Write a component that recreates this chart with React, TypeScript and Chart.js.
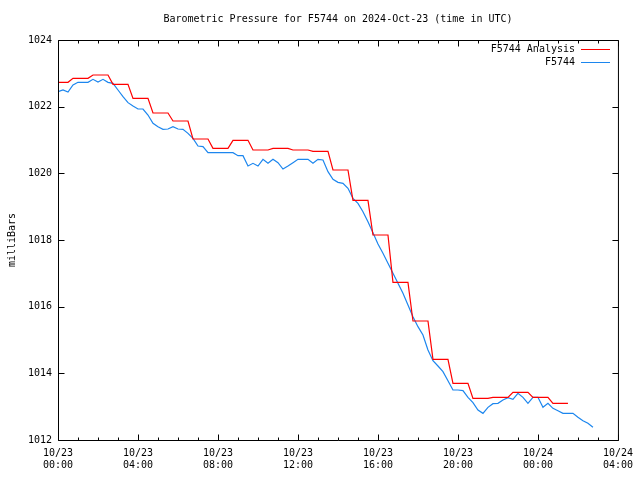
import React, { useEffect, useRef } from 'react';
import { Chart, registerables } from 'chart.js';

Chart.register(...registerables);

const TITLE = 'Barometric Pressure for F5744 on 2024-Oct-23 (time in UTC)';
const Y_TITLE = 'milliBars';
const SERIES_NAMES = ['F5744 Analysis', 'F5744'];
const SERIES_COLORS = ['#ff0000', '#1c86ee'];

// hours since 2024-10-23 00:00 UTC
const X_TICK_HOURS = [0, 4, 8, 12, 16, 20, 24, 28];
const X_TICK_LABELS = [
  ['10/23', '00:00'],
  ['10/23', '04:00'],
  ['10/23', '08:00'],
  ['10/23', '12:00'],
  ['10/23', '16:00'],
  ['10/23', '20:00'],
  ['10/24', '00:00'],
  ['10/24', '04:00'],
];
const Y_TICKS = [1012, 1014, 1016, 1018, 1020, 1022, 1024];

// hourly analysis values (hour 0 .. 25)
const analysisValues = [
  1022.73, 1022.85, 1022.95, 1022.67, 1022.25, 1021.81, 1021.57, 1021.03,
  1020.75, 1020.99, 1020.70, 1020.75, 1020.70, 1020.66, 1020.10, 1019.19,
  1018.15, 1016.73, 1015.57, 1014.42, 1013.70, 1013.25, 1013.28, 1013.43,
  1013.28, 1013.10,
];
const analysisEndHour = 25.5;

// station observations
const obsHours = [
  0, 0.25, 0.5, 0.75, 1, 1.25, 1.5, 1.75, 2, 2.25, 2.5, 2.75,
  3, 3.25, 3.5, 3.75, 4, 4.25, 4.5, 4.75, 5, 5.25, 5.5, 5.75,
  6, 6.25, 6.5, 6.75, 7, 7.25, 7.5, 7.75, 8, 8.25, 8.5, 8.75,
  9, 9.25, 9.5, 9.75, 10, 10.25, 10.5, 10.75, 11, 11.25, 11.5, 11.75,
  12, 12.25, 12.5, 12.75, 13, 13.25, 13.5, 13.75, 14, 14.25, 14.5, 14.75,
  15, 15.25, 15.5, 15.75, 16, 16.25, 16.5, 16.75, 17, 17.25, 17.5, 17.75,
  18, 18.25, 18.5, 18.75, 19, 19.25, 19.5, 19.75, 20, 20.25, 20.5, 20.75,
  21, 21.25, 21.5, 21.75, 22, 22.25, 22.5, 22.75, 23, 23.25, 23.5, 23.75,
  24, 24.25, 24.5, 24.75, 25, 25.25, 25.5, 25.75, 26, 26.25, 26.5, 26.75,
];
const obsValues = [
  1022.45, 1022.50, 1022.44, 1022.65, 1022.73, 1022.73, 1022.73, 1022.82, 1022.74, 1022.82, 1022.73, 1022.70,
  1022.50, 1022.30, 1022.12, 1022.02, 1021.93, 1021.93, 1021.75, 1021.50, 1021.40, 1021.32, 1021.33, 1021.40,
  1021.33, 1021.32, 1021.20, 1021.05, 1020.82, 1020.80, 1020.62, 1020.62, 1020.62, 1020.62, 1020.62, 1020.62,
  1020.53, 1020.53, 1020.22, 1020.30, 1020.22, 1020.42, 1020.30, 1020.42, 1020.32, 1020.13, 1020.22, 1020.32,
  1020.42, 1020.42, 1020.42, 1020.30, 1020.42, 1020.40, 1020.05, 1019.82, 1019.73, 1019.70, 1019.55, 1019.25,
  1019.10, 1018.85, 1018.55, 1018.22, 1017.88, 1017.60, 1017.30, 1017.00, 1016.70, 1016.40, 1016.05, 1015.70,
  1015.40, 1015.15, 1014.70, 1014.38, 1014.22, 1014.05, 1013.78, 1013.50, 1013.50, 1013.48, 1013.28, 1013.12,
  1012.90, 1012.80, 1012.98, 1013.09, 1013.10, 1013.20, 1013.27, 1013.22, 1013.40, 1013.28, 1013.10, 1013.28,
  1013.28, 1012.98, 1013.10, 1012.95, 1012.88, 1012.80, 1012.80, 1012.80, 1012.68, 1012.58, 1012.50, 1012.38,
];

const FONT = '10px "DejaVu Sans Mono", monospace';

function buildAnalysisPoints() {
  const pts: { x: number; y: number }[] = [];
  const last = analysisValues.length - 1;
  analysisValues.forEach((v, k) => {
    const start = k === 0 ? 0 : k - 0.25;
    const end = k === last ? analysisEndHour : k + 0.5;
    pts.push({ x: start, y: v });
    pts.push({ x: end, y: v });
  });
  return pts;
}

const framePlugin = {
  id: 'gnuplotFrame',
  afterDraw(chart: any) {
    const { ctx, chartArea } = chart;
    const xs = chart.scales.x;
    const ys = chart.scales.y;
    const L = chartArea.left + 0.5;
    const R = chartArea.right + 0.5;
    const T = chartArea.top + 0.5;
    const B = chartArea.bottom + 0.5;
    ctx.save();
    ctx.strokeStyle = '#000';
    ctx.lineWidth = 1;
    ctx.beginPath();
    ctx.rect(L, T, R - L, B - T);
    // x ticks every hour, major every 4 hours
    for (let h = xs.min; h <= xs.max; h += 1) {
      const x = Math.round(xs.getPixelForValue(h)) + 0.5;
      const len = X_TICK_HOURS.includes(h) ? 6 : 3;
      ctx.moveTo(x, B);
      ctx.lineTo(x, B - len);
      ctx.moveTo(x, T);
      ctx.lineTo(x, T + len);
    }
    Y_TICKS.forEach((v) => {
      const y = Math.round(ys.getPixelForValue(v)) + 0.5;
      ctx.moveTo(L, y);
      ctx.lineTo(L + 6, y);
      ctx.moveTo(R, y);
      ctx.lineTo(R - 6, y);
    });
    ctx.stroke();

    ctx.fillStyle = '#000';
    ctx.font = FONT;
    ctx.textBaseline = 'middle';
    // title
    ctx.textAlign = 'center';
    ctx.fillText(TITLE, (chartArea.left + chartArea.right) / 2, 19);
    // y title
    ctx.save();
    ctx.translate(12, (chartArea.top + chartArea.bottom) / 2);
    ctx.rotate(-Math.PI / 2);
    ctx.fillText(Y_TITLE, 0, 0);
    ctx.restore();
    // legend
    ctx.textAlign = 'right';
    SERIES_NAMES.forEach((name, i) => {
      const y = 49 + i * 13;
      ctx.fillStyle = '#000';
      ctx.fillText(name, 575, y);
      ctx.strokeStyle = SERIES_COLORS[i];
      ctx.lineWidth = 1;
      ctx.beginPath();
      ctx.moveTo(581, y + 0.5);
      ctx.lineTo(610, y + 0.5);
      ctx.stroke();
    });
    ctx.restore();
  },
};

export default function App() {
  const ref = useRef<HTMLCanvasElement>(null);
  useEffect(() => {
    if (!ref.current) return;
    const chart = new Chart(ref.current, {
      type: 'line',
      data: {
        datasets: [
          {
            label: SERIES_NAMES[0],
            data: buildAnalysisPoints(),
            borderColor: SERIES_COLORS[0],
            backgroundColor: SERIES_COLORS[0],
            borderWidth: 1.2,
            pointRadius: 0,
            tension: 0,
            fill: false,
          },
          {
            label: SERIES_NAMES[1],
            data: obsHours.map((h, i) => ({ x: h, y: obsValues[i] })),
            borderColor: SERIES_COLORS[1],
            backgroundColor: SERIES_COLORS[1],
            borderWidth: 1.2,
            pointRadius: 0,
            tension: 0,
            fill: false,
          },
        ],
      },
      options: {
        animation: false,
        responsive: false,
        maintainAspectRatio: false,
        layout: { padding: { left: 0, right: 18, top: 40, bottom: 0 } },
        plugins: {
          legend: { display: false },
          title: { display: false },
          tooltip: { enabled: false },
        },
        scales: {
          x: {
            type: 'linear',
            min: 0,
            max: 28,
            grid: { display: false, drawTicks: false },
            border: { display: false },
            afterFit: (s: any) => {
              s.height = 40;
            },
            ticks: {
              stepSize: 4,
              autoSkip: false,
              maxRotation: 0,
              minRotation: 0,
              padding: 7,
              color: '#000',
              font: { family: '"DejaVu Sans Mono", monospace', size: 10, lineHeight: 1.2 },
              callback: (v: any) => {
                const i = X_TICK_HOURS.indexOf(Number(v));
                return i >= 0 ? X_TICK_LABELS[i] : '';
              },
            },
          },
          y: {
            type: 'linear',
            min: 1012,
            max: 1024,
            grid: { display: false, drawTicks: false },
            border: { display: false },
            afterFit: (s: any) => {
              s.width = 58;
            },
            afterBuildTicks: (s: any) => {
              s.ticks = Y_TICKS.map((v) => ({ value: v }));
            },
            ticks: {
              padding: 6,
              color: '#000',
              font: { family: '"DejaVu Sans Mono", monospace', size: 10 },
              callback: (v: any) => String(v),
            },
          },
        },
      },
      plugins: [framePlugin],
    });
    return () => chart.destroy();
  }, []);
  return (
    <div style={{ position: 'fixed', left: 0, top: 0, width: 640, height: 480, background: '#fff' }}>
      <canvas ref={ref} width={640} height={480} />
    </div>
  );
}
